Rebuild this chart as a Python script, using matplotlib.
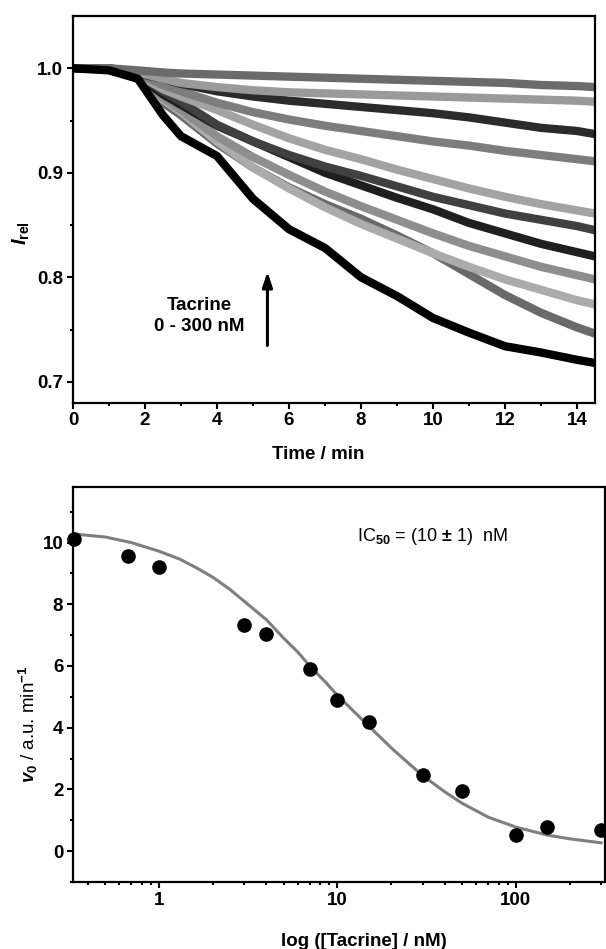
import numpy as np
import matplotlib
matplotlib.use('Agg')
import matplotlib.pyplot as plt
from matplotlib.ticker import MultipleLocator, FixedLocator, NullFormatter

plt.rcParams['font.family'] = ['Liberation Sans', 'DejaVu Sans']
plt.rcParams['font.weight'] = 'bold'
plt.rcParams['mathtext.fontset'] = 'custom'
plt.rcParams['mathtext.rm'] = 'Liberation Sans:bold'
plt.rcParams['mathtext.it'] = 'Liberation Sans:italic:bold'
plt.rcParams['mathtext.bf'] = 'Liberation Sans:bold'

FS = 13.5

# top panel: relative intensity traces (0 - 300 nM tacrine)
time_min = [0, 1, 1.8, 2.5, 3, 4, 5, 6, 7, 8, 9, 10, 11, 12, 13, 14, 14.5]
tr_300 = [1.0, 1.0, 0.998, 0.996, 0.995, 0.994, 0.993, 0.992, 0.991, 0.99, 0.989, 0.988, 0.987, 0.986, 0.984, 0.983, 0.982]
tr_150 = [1.0, 1.0, 0.996, 0.99, 0.986, 0.982, 0.979, 0.977, 0.976, 0.975, 0.974, 0.973, 0.972, 0.971, 0.97, 0.969, 0.968]
tr_100 = [1.0, 1.0, 0.995, 0.99, 0.985, 0.978, 0.973, 0.969, 0.966, 0.963, 0.96, 0.957, 0.953, 0.948, 0.943, 0.94, 0.937]
tr_50 = [1.0, 1.0, 0.995, 0.984, 0.978, 0.967, 0.958, 0.951, 0.945, 0.94, 0.935, 0.93, 0.926, 0.921, 0.917, 0.913, 0.911]
tr_30 = [1.0, 1.0, 0.994, 0.98, 0.973, 0.96, 0.946, 0.933, 0.922, 0.913, 0.903, 0.894, 0.885, 0.877, 0.87, 0.864, 0.861]
tr_15 = [1.0, 1.0, 0.994, 0.978, 0.968, 0.946, 0.93, 0.917, 0.906, 0.897, 0.887, 0.877, 0.869, 0.861, 0.855, 0.849, 0.845]
tr_10 = [1.0, 1.0, 0.993, 0.975, 0.965, 0.945, 0.93, 0.915, 0.9, 0.888, 0.876, 0.865, 0.852, 0.842, 0.832, 0.824, 0.82]
tr_7 = [1.0, 1.0, 0.993, 0.972, 0.96, 0.935, 0.915, 0.898, 0.882, 0.868, 0.855, 0.842, 0.83, 0.82, 0.81, 0.802, 0.798]
tr_4 = [1.0, 1.0, 0.992, 0.97, 0.958, 0.93, 0.905, 0.885, 0.867, 0.851, 0.837, 0.823, 0.81, 0.798, 0.788, 0.778, 0.774]
tr_1 = [1.0, 1.0, 0.99, 0.967, 0.955, 0.928, 0.905, 0.886, 0.87, 0.856, 0.84, 0.823, 0.803, 0.783, 0.766, 0.752, 0.746]
tr_0 = [1.0, 0.998, 0.99, 0.955, 0.935, 0.916, 0.875, 0.846, 0.828, 0.80, 0.782, 0.761, 0.747, 0.734, 0.728, 0.721, 0.718]

traces = [tr_1, tr_4, tr_7, tr_10, tr_15, tr_30, tr_50, tr_100, tr_150, tr_300, tr_0]
trace_colors = ['#6a6a6a', '#ababab', '#8e8e8e', '#1f1f1f', '#404040', '#a3a3a3',
                '#7d7d7d', '#2b2b2b', '#9a9a9a', '#6b6b6b', '#000000']

# bottom panel: initial rates vs concentration
conc = [0.333, 0.67, 1, 3, 4, 7, 10, 15, 30, 50, 100, 150, 300]
v0 = [10.11, 9.57, 9.22, 7.32, 7.04, 5.9, 4.91, 4.19, 2.46, 1.94, 0.53, 0.79, 0.68]
fit_conc = [0.33, 0.5, 0.7, 1, 1.3, 1.6, 2, 2.5, 3, 4, 5, 6, 7, 8.5, 10, 12, 15, 20, 25, 30,
            40, 50, 70, 100, 150, 200, 300]
fit_v0 = [10.28, 10.18, 10.0, 9.72, 9.47, 9.2, 8.88, 8.48, 8.1, 7.5, 6.9, 6.45, 6.0, 5.5,
          5.05, 4.6, 4.05, 3.35, 2.85, 2.45, 1.92, 1.55, 1.1, 0.78, 0.52, 0.4, 0.27]

fig = plt.figure(figsize=(6.06, 9.49), dpi=100)
ax1 = fig.add_axes([0.1205, 0.5757, 0.8614, 0.4074])
ax2 = fig.add_axes([0.1205, 0.0706, 0.878, 0.4162])

for tr, c in zip(traces, trace_colors):
    ax1.plot(time_min, tr, color=c, lw=6, solid_capstyle='butt')

ax1.annotate('', xy=(5.4, 0.808), xytext=(5.4, 0.732),
             arrowprops=dict(arrowstyle='-|>,head_width=0.3,head_length=0.9', color='black', lw=2.2))
ax1.text(3.5, 0.763, 'Tacrine\n0 - 300 nM', ha='center', va='center', fontsize=FS,
         fontweight='bold', linespacing=1.3)

ax1.set_xlim(0, 14.5)
ax1.set_ylim(0.68, 1.05)
ax1.xaxis.set_major_locator(MultipleLocator(2))
ax1.xaxis.set_minor_locator(MultipleLocator(1))
ax1.yaxis.set_major_locator(FixedLocator([0.7, 0.8, 0.9, 1.0]))
ax1.yaxis.set_minor_locator(FixedLocator([0.75, 0.85, 0.95]))
ax1.yaxis.set_major_formatter(matplotlib.ticker.FormatStrFormatter('%.1f'))
ax1.set_xlabel('Time / min', fontsize=FS, fontweight='bold')
ax1.xaxis.set_label_coords(0.469, -0.113)
ax1.set_ylabel(r'$I_{\mathrm{rel}}$', fontsize=FS + 1)
ax1.yaxis.set_label_coords(-0.078, 0.44)

ax2.plot(fit_conc, fit_v0, color='#7f7f7f', lw=2.2, zorder=2)
ax2.plot(conc, v0, 'o', color='black', ms=9.5, zorder=3, clip_on=False)
ax2.text(34, 10.2, r'IC$_{50}$ = (10 $\pm$ 1)  nM', ha='center', va='center',
         fontsize=FS - 0.5, fontweight='normal')
ax2.set_xscale('log')
ax2.set_xlim(0.33, 316)
ax2.set_ylim(-1, 11.8)
ax2.xaxis.set_major_locator(FixedLocator([1, 10, 100]))
ax2.xaxis.set_major_formatter(matplotlib.ticker.FixedFormatter(['1', '10', '100']))
ax2.xaxis.set_minor_locator(matplotlib.ticker.LogLocator(base=10, subs=np.arange(2, 10), numticks=20))
ax2.xaxis.set_minor_formatter(NullFormatter())
ax2.yaxis.set_major_locator(MultipleLocator(2))
ax2.yaxis.set_minor_locator(MultipleLocator(1))
ax2.set_xlabel('log ([Tacrine] / nM)', fontsize=FS, fontweight='bold')
ax2.xaxis.set_label_coords(0.547, -0.128)
ax2.set_ylabel(r'$v_{\mathrm{0}}$ / a.u. min$^{\mathrm{-1}}$', fontsize=FS)
ax2.yaxis.set_label_coords(-0.062, 0.40)

for ax in (ax1, ax2):
    for s in ax.spines.values():
        s.set_linewidth(1.6)
    ax.tick_params(which='major', direction='out', length=4, width=1.5, labelsize=FS, pad=3)
    ax.tick_params(which='minor', direction='out', length=2.5, width=1.5)
    for lab in ax.get_xticklabels() + ax.get_yticklabels():
        lab.set_fontweight('bold')

fig.savefig('out.png', dpi=100)
